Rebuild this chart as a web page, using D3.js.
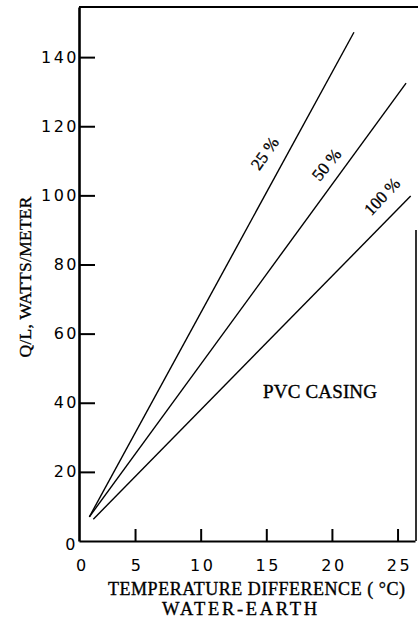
<!DOCTYPE html>
<html>
<head>
<meta charset="utf-8">
<script src="https://cdn.jsdelivr.net/npm/d3@7"></script>
<style>
  body { margin: 0; background: #fff; }
  svg { display: block; }
</style>
</head>
<body>
<svg id="chart" width="418" height="628"></svg>
<script>
// casing share for each line
const series = ["25 %", "50 %", "100 %"];
// line ends: temperature difference (C) and Q/L (W/m)
const dtStart = [1.52, 1.52, 1.82];
const dtEnd = [21.68, 25.65, 26.0];
const qStart = [7.0, 7.0, 6.3];
const qEnd = [147.2, 132.5, 99.8];
// tick labels
const xTicks = [5, 10, 15, 20, 25];
const yTicks = [0, 20, 40, 60, 80, 100, 120, 140];

const svg = d3.select("#chart");
const plotLeft = 79, plotRight = 415, plotTop = 7, plotBottom = 541;

// scales, x origin sits a bit right of zero on the original plot
let x = d3.scaleLinear().domain([0.73, 26.33]).range([plotLeft, plotRight]);
let y = d3.scaleLinear().domain([0, 154.5]).range([plotBottom, plotTop]);

const serif = "'Liberation Serif', 'Times New Roman', serif";
const sans = "'DejaVu Sans', sans-serif";

// y axis, ticks point inward
let yAxis = svg.append("g")
  .attr("transform", `translate(${plotLeft},0)`)
  .call(d3.axisLeft(y).tickValues(yTicks).tickSizeInner(-16).tickSizeOuter(0).tickPadding(2));
yAxis.select(".domain").attr("stroke-width", 2.6);
yAxis.selectAll(".tick line").attr("stroke-width", 2);
yAxis.selectAll(".tick text")
  .attr("font-family", sans).attr("font-size", 16)
  .attr("letter-spacing", 2.5).attr("x", 0);
// zero label has no tick and sits a little lower
yAxis.selectAll(".tick").filter(d => d === 0).select("line").remove();
yAxis.selectAll(".tick").filter(d => d === 0).select("text").attr("x", -1).attr("dy", "0.55em");

// x axis, ticks point up
let xAxis = svg.append("g")
  .attr("transform", `translate(0,${plotBottom})`)
  .call(d3.axisBottom(x).tickValues(xTicks).tickSizeInner(-12).tickSizeOuter(0).tickPadding(19));
xAxis.select(".domain").attr("stroke-width", 2.2);
xAxis.selectAll(".tick line").attr("stroke-width", 2);
xAxis.selectAll("text")
  .attr("font-family", sans).attr("font-size", 16)
  .attr("letter-spacing", 2.5).attr("dx", 1.5);

// "0" under the origin
svg.append("text")
  .attr("x", plotLeft + 2).attr("y", plotBottom + 30)
  .attr("text-anchor", "middle")
  .attr("font-family", sans).attr("font-size", 16)
  .text("0");

// top frame line and the short right edge
svg.append("line")
  .attr("x1", plotLeft).attr("x2", 418).attr("y1", plotTop).attr("y2", plotTop)
  .attr("stroke", "#000").attr("stroke-width", 2.2);
svg.append("line")
  .attr("x1", plotRight + 1).attr("x2", plotRight + 1).attr("y1", 230).attr("y2", plotBottom)
  .attr("stroke", "#000").attr("stroke-width", 1.6);

// data lines
let lines = series.map((s, i) => ({
  name: s,
  pts: [[dtStart[i], qStart[i]], [dtEnd[i], qEnd[i]]]
}));

let line = d3.line().x(d => x(d[0])).y(d => y(d[1]));

svg.append("g").selectAll("path")
  .data(lines)
  .join("path")
  .attr("d", d => line(d.pts))
  .attr("fill", "none")
  .attr("stroke", "#000")
  .attr("stroke-width", 1.4);

// line labels, placed along each line and nudged up-left
const labelT = [0.73, 0.79, 0.955];
const labelOff = [20, 16, 20];
const labelAngle = [-55, -51, -47];

lines.forEach((d, i) => {
  let x0 = x(d.pts[0][0]), y0 = y(d.pts[0][1]);
  let x1 = x(d.pts[1][0]), y1 = y(d.pts[1][1]);
  let dx = x1 - x0, dy = y1 - y0;
  let len = Math.hypot(dx, dy);
  let nx = dy / len, ny = -dx / len;
  let px = x0 + labelT[i] * dx + labelOff[i] * nx;
  let py = y0 + labelT[i] * dy + labelOff[i] * ny;
  svg.append("text")
    .attr("transform", `translate(${px},${py}) rotate(${labelAngle[i]})`)
    .attr("text-anchor", "middle")
    .attr("dominant-baseline", "central")
    .attr("font-family", serif).attr("font-size", 17)
    .attr("stroke", "#000").attr("stroke-width", 0.3)
    .text(d.name);
});

// shared style for the serif captions
function caption(sel, size, len) {
  return sel.attr("font-family", serif).attr("font-size", size)
    .attr("text-anchor", "middle")
    .attr("stroke", "#000").attr("stroke-width", 0.35)
    .attr("textLength", len).attr("lengthAdjust", "spacing");
}

// annotation
caption(svg.append("text").attr("x", 320).attr("y", 398), 19, 114)
  .text("PVC CASING");

// axis titles
caption(svg.append("text").attr("x", 256.5).attr("y", 595), 18, 297)
  .text("TEMPERATURE DIFFERENCE ( °C)");

caption(svg.append("text").attr("x", 239.5).attr("y", 615), 18.5, 155)
  .text("WATER-EARTH");

caption(svg.append("text").attr("transform", "translate(31,277) rotate(-90)"), 17.5, 161)
  .text("Q/L, WATTS/METER");
</script>
</body>
</html>
